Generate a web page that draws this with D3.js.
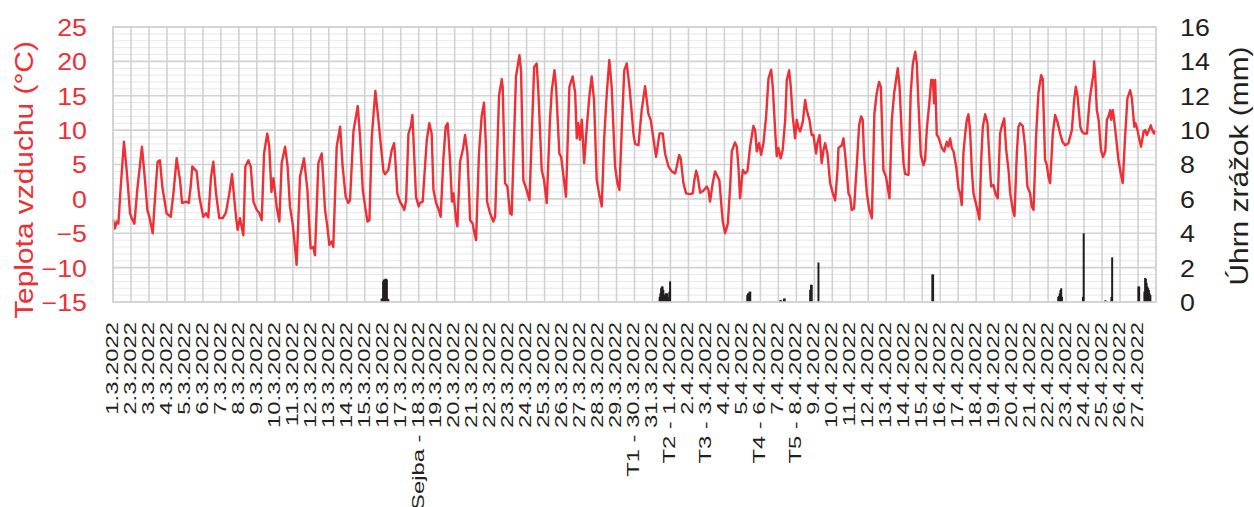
<!DOCTYPE html>
<html><head><meta charset="utf-8">
<script src="https://cdn.jsdelivr.net/npm/d3@7"></script>
<style>html,body{margin:0;padding:0;background:#fff;} svg{display:block;font-family:"Liberation Sans",Arial,sans-serif;}</style>
</head><body><svg id="chart" width="1254" height="507"></svg>
<script>
// ---------- DATA ----------
const dayLabels = [
 "1.3.2022","2.3.2022","3.3.2022","4.3.2022","5.3.2022","6.3.2022","7.3.2022","8.3.2022","9.3.2022","10.3.2022",
 "11.3.2022","12.3.2022","13.3.2022","14.3.2022","15.3.2022","16.3.2022","17.3.2022","18.3.2022","19.3.2022","20.3.2022",
 "21.3.2022","22.3.2022","23.3.2022","24.3.2022","25.3.2022","26.3.2022","27.3.2022","28.3.2022","29.3.2022","30.3.2022",
 "31.3.2022","1.4.2022","2.4.2022","3.4.2022","4.4.2022","5.4.2022","6.4.2022","7.4.2022","8.4.2022","9.4.2022",
 "10.4.2022","11.4.2022","12.4.2022","13.4.2022","14.4.2022","15.4.2022","16.4.2022","17.4.2022","18.4.2022","19.4.2022",
 "20.4.2022","21.4.2022","22.4.2022","23.4.2022","24.4.2022","25.4.2022","26.4.2022","27.4.2022"];
const eventNames = ["Sejba","T1","T2","T3","T4","T5"];
const eventDates = ["18.3.2022","30.3.2022","1.4.2022","3.4.2022","6.4.2022","8.4.2022"];
const tempTicks = [-15,-10,-5,0,5,10,15,20,25];
const precipTicks = [0,2,4,6,8,10,12,14,16];
const leftTitle = "Teplota vzduchu (°C)";
const rightTitle = "Úhrn zrážok (mm)";

// time in days since 1.3.2022 00:00
const tempDay = [
 0.00,0.11,0.20,0.30,0.43,0.61,0.76,0.95,1.04,1.19,1.35,1.61,1.78,1.91,2.02,2.21,2.34,2.48,2.61,2.74,
 2.98,3.21,3.36,3.54,3.73,3.84,4.06,4.21,4.32,4.41,4.65,4.80,5.02,5.17,5.30,5.45,5.58,5.73,5.91,6.10,
 6.28,6.47,6.62,6.75,6.84,6.93,7.06,7.25,7.36,7.53,7.66,7.81,7.99,8.14,8.27,8.40,8.58,8.69,8.81,8.92,
 9.10,9.25,9.38,9.57,9.71,9.84,9.99,10.12,10.21,10.40,10.62,10.81,10.92,10.99,11.14,11.23,11.42,11.61,11.79,11.92,
 12.03,12.16,12.25,12.44,12.63,12.77,12.94,13.09,13.18,13.37,13.61,13.74,13.89,14.02,14.15,14.26,14.39,14.59,14.76,14.85,
 15.04,15.13,15.31,15.50,15.63,15.68,15.81,15.96,16.11,16.20,16.30,16.43,16.56,16.65,16.76,16.85,17.00,17.07,17.22,17.45,
 17.59,17.72,17.82,17.97,18.09,18.22,18.37,18.50,18.61,18.74,18.85,18.93,19.08,19.15,19.30,19.45,19.58,19.71,19.86,20.00,
 20.10,20.19,20.35,20.50,20.63,20.74,20.80,20.97,21.15,21.25,21.47,21.62,21.67,21.80,21.93,22.08,22.17,22.41,22.60,22.69,
 22.82,23.00,23.16,23.42,23.56,23.65,23.84,23.97,24.12,24.30,24.40,24.55,24.64,24.82,24.92,25.08,25.19,25.38,25.56,25.70,
 25.79,25.88,25.97,26.07,26.20,26.35,26.49,26.62,26.75,26.90,27.03,27.18,27.31,27.46,27.60,27.73,27.92,28.05,28.16,28.29,
 28.43,28.57,28.72,28.85,28.94,29.03,29.22,29.40,29.59,29.77,29.90,30.05,30.20,30.39,30.57,
 30.70,30.89,31.07,31.26,31.35,31.48,31.57,31.72,31.87,32.09,32.24,32.33,32.43,32.52,32.65,32.84,33.02,33.11,33.20,33.35,
 33.48,33.57,33.72,33.82,33.91,34.04,34.19,34.32,34.41,34.59,34.69,34.78,34.87,35.02,35.15,35.28,35.43,35.61,35.71,35.80,
 35.93,36.04,36.17,36.32,36.45,36.60,36.69,36.82,36.91,37.00,37.13,37.24,37.38,37.47,37.60,37.69,37.80,37.93,38.02,38.12,
 38.21,38.36,38.49,38.58,38.73,38.85,38.95,39.04,39.10,39.17,39.29,39.41,39.51,39.60,39.73,39.88,40.03,40.16,40.29,40.34,
 40.53,40.62,40.71,40.81,40.90,40.99,41.08,41.21,41.40,41.49,41.60,41.69,41.77,41.92,42.06,42.20,42.34,42.47,42.60,42.70,
 42.84,42.99,43.07,43.18,43.31,43.44,43.64,43.74,43.87,43.96,44.05,44.24,44.36,44.48,44.61,44.70,44.79,44.92,45.07,45.16,
 45.26,45.41,45.50,45.59,45.66,45.72,45.81,45.90,46.09,46.22,46.37,46.46,46.55,46.64,46.74,46.89,47.02,47.11,47.20,47.29,
 47.39,47.48,47.57,47.66,47.76,47.85,47.98,48.07,48.18,48.28,48.37,48.50,48.63,48.74,48.83,48.96,49.09,49.20,49.33,49.42,
 49.56,49.67,49.80,49.89,50.04,50.13,50.26,50.35,50.44,50.59,50.72,50.85,51.00,51.09,51.19,51.33,51.46,51.61,51.70,51.83,
 51.93,52.02,52.11,52.26,52.39,52.52,52.67,52.80,52.95,53.13,53.32,53.45,53.54,53.64,53.79,53.88,54.01,54.16,54.31,54.43,
 54.53,54.56,54.62,54.71,54.81,54.94,55.05,55.18,55.27,55.36,55.45,55.51,55.60,55.67,55.78,55.91,56.04,56.15,56.28,56.41,
 56.56,56.66,56.79,56.86,56.97,57.08,57.17,57.31,57.40,57.49,57.58,57.71,57.82,57.90,57.96];
const tempC = [
 -3.0,-4.3,-3.3,-3.6,1.8,8.3,4.2,-2.1,-2.8,-3.6,1.3,7.6,2.7,-1.6,-2.6,-5.0,0.3,5.4,5.6,1.8,
 -2.1,-2.6,0.8,5.9,2.7,-0.6,-0.4,-0.6,1.8,4.7,4.0,0.3,-2.6,-2.1,-2.7,3.2,5.4,0.8,-2.8,-2.8,
 -2.0,0.8,3.6,-0.2,-2.6,-4.5,-2.8,-5.3,4.7,5.6,4.7,-0.4,-1.6,-2.1,-3.1,6.6,9.5,7.6,1.0,3.0,
 -1.1,-3.3,5.2,7.6,4.7,-1.1,-3.6,-7.0,-9.6,3.2,5.9,1.3,-4.0,-7.2,-7.0,-8.2,5.2,6.6,-1.6,-4.0,
 -6.7,-6.2,-7.0,7.6,10.5,4.7,0.3,-0.6,-0.2,9.8,13.5,9.0,1.3,-1.1,-3.3,-3.1,9.0,15.7,11.5,9.0,
 4.0,3.6,4.2,7.1,8.1,6.6,0.8,-0.4,-1.1,-1.6,-0.2,9.5,10.5,12.2,5.7,0.3,-1.1,-0.6,-0.4,8.6,
 11.0,9.5,1.3,-0.6,-1.4,-2.6,5.7,10.5,11.0,5.7,-0.4,0.8,-3.1,-4.0,5.4,7.1,9.3,6.6,-3.1,-3.6,
 -5.0,-6.0,6.6,12.0,14.0,7.6,-0.4,-2.1,-3.3,-2.6,15.1,17.4,16.3,2.3,1.8,-2.1,-2.3,17.8,20.9,18.7,
 2.7,1.3,-0.2,19.2,19.7,15.8,4.2,2.7,-0.6,11.5,15.8,18.7,16.3,6.6,6.1,2.7,0.3,16.3,17.8,15.4,
 8.8,11.0,8.6,11.5,5.2,10.5,14.9,17.8,14.4,2.7,0.8,-1.1,8.6,15.4,20.2,16.3,4.7,2.3,1.3,10.0,
 18.7,19.7,16.3,12.4,9.5,8.0,7.8,12.9,16.4,12.4,11.5,8.8,6.1,9.5,9.5,
 6.6,4.7,4.0,3.7,4.7,6.4,5.9,2.3,0.8,0.7,0.8,2.7,4.1,3.2,0.9,1.2,1.8,1.3,-0.4,2.3,
 4.0,3.5,2.7,-0.6,-3.3,-5.0,-3.6,1.8,6.9,8.2,7.6,4.7,0.1,4.2,3.7,4.0,7.6,10.6,10.0,6.9,
 8.1,6.4,8.1,12.0,17.5,18.8,16.3,10.0,6.2,7.4,5.9,7.1,11.5,17.3,18.7,16.3,12.0,8.8,11.5,10.3,
 9.8,11.2,14.4,12.9,11.5,9.3,9.3,7.6,6.6,8.1,9.3,5.2,7.1,8.1,6.6,2.3,0.8,-0.2,4.2,7.4,
 7.8,8.8,6.6,3.7,0.8,0.3,-1.6,-1.4,6.6,10.7,12.0,11.5,6.1,0.8,-1.6,-2.8,12.4,15.4,17.0,16.3,
 4.2,3.2,1.8,0.1,11.5,15.4,19.0,16.3,9.0,5.2,3.6,3.5,15.4,19.7,21.4,19.7,13.9,6.4,4.9,5.7,
 10.3,14.4,17.3,17.3,13.9,17.3,9.3,9.0,7.4,6.9,8.3,7.6,8.8,7.4,6.9,4.7,1.5,0.8,-0.9,6.6,
 9.5,11.5,12.3,10.0,4.2,0.8,-0.6,-1.6,-3.0,5.7,10.5,12.3,11.0,5.7,1.8,2.0,0.6,0.1,9.5,10.5,
 11.7,7.1,4.2,0.8,-1.6,-2.5,6.6,10.5,11.0,10.6,7.6,1.8,0.8,-1.1,-1.6,9.0,15.4,18.0,17.5,5.7,
 4.9,3.2,2.3,9.5,12.2,11.2,9.5,8.3,7.8,8.1,10.0,14.4,16.3,14.9,10.5,9.8,9.5,9.5,14.4,16.6,
 18.3,20.0,18.0,12.9,11.5,7.1,6.1,6.9,11.5,12.0,12.9,11.5,12.9,11.5,9.0,5.7,3.7,2.3,9.0,14.6,
 15.8,14.6,10.5,11.0,10.0,8.6,7.6,9.8,10.0,9.3,9.8,10.7,9.8,9.5,10.0];

// hour index since 1.3.2022 00:00 (hours with precipitation only)
const precipHour = [358,359,360,361,362,363,364,365,366,367,
 729,730,731,732,733,734,735,736,737,738,739,740,741,742,743,
 846,847,848,849,850, 890,891,895,896, 930,931,932, 941, 1093,1094,
 1261,1262,1263,1264,1265,1266, 1294,1295, 1324, 1332,1333,
 1368,1369,1376,1377,1378,1379,1380,1381,1382,1383,1384];
const precipMm = [0.2,0.2,1.2,1.3,1.3,1.35,1.35,1.3,0.2,0.15,
 0.3,0.5,0.8,0.9,0.9,0.7,0.4,0.4,0.5,0.5,0.5,0.3,0.1,0.6,1.2,
 0.4,0.5,0.5,0.6,0.6, 0.1,0.1,0.2,0.2, 0.7,1.0,1.0, 2.3, 1.6,1.6,
 0.3,0.35,0.5,0.7,0.8,0.3, 0.3,4.0, 0.1, 0.3,2.6,
 0.9,0.9,0.6,1.4,1.35,1.1,0.9,0.8,0.7,0.5,0.4];

// ---------- CHART ----------
const W = 1254, H = 507;
const M = {left:113, right:1156, top:27, bottom:302};
const RED = "#ee2f36", DARK = "#231f20", GRID = "#d2d2d2", MINOR = "#e8e8e8";
const svg = d3.select("#chart");

const x = d3.scaleLinear().domain([0, dayLabels.length]).range([M.left, M.right]);
const yT = d3.scaleLinear().domain([-15, 25]).range([M.bottom, M.top]);
const yP = d3.scaleLinear().domain([0, 16]).range([M.bottom, M.top]);

function stretch(sel, f){
  sel.each(function(){
    const n = this.getComputedTextLength();
    d3.select(this).attr("textLength", n*f).attr("lengthAdjust","spacingAndGlyphs");
  });
}

// minor grid
svg.append("g").selectAll("line").data(d3.range(-15, 26, 1).filter(v => v % 5 !== 0)).join("line")
  .attr("x1", M.left).attr("x2", M.right).attr("y1", d => yT(d)).attr("y2", d => yT(d))
  .attr("stroke", MINOR).attr("stroke-width", 1);
// vertical grid (per day)
svg.append("g").selectAll("line").data(d3.range(0, dayLabels.length + 1)).join("line")
  .attr("x1", d => x(d)).attr("x2", d => x(d)).attr("y1", M.top).attr("y2", M.bottom)
  .attr("stroke", GRID).attr("stroke-width", 1.6);
// major grid
svg.append("g").selectAll("line").data(tempTicks).join("line")
  .attr("x1", M.left).attr("x2", M.right).attr("y1", d => yT(d)).attr("y2", d => yT(d))
  .attr("stroke", GRID).attr("stroke-width", 1.6);

// precipitation bars
const pData = precipHour.map((h, i) => ({h, v: precipMm[i]}));
svg.append("g").selectAll("rect").data(pData).join("rect")
  .attr("x", d => x((d.h + 0.5) / 24) - 1)
  .attr("width", 2)
  .attr("y", d => yP(d.v))
  .attr("height", d => yP(0) - yP(d.v))
  .attr("fill", DARK);

// temperature line
const tData = tempDay.map((d, i) => ({d, v: tempC[i]}));
svg.append("path").datum(tData)
  .attr("fill", "none").attr("stroke", RED).attr("stroke-width", 2.4)
  .attr("stroke-linejoin", "round")
  .attr("d", d3.line().x(d => x(d.d)).y(d => yT(d.v)));

// left axis
const gL = svg.append("g").attr("transform", `translate(${M.left - 26},0)`)
  .call(d3.axisLeft(yT).tickValues(tempTicks).tickSize(0).tickPadding(0));
gL.select(".domain").remove();
gL.selectAll("text").attr("fill", RED).attr("font-size", 23.3)
  .attr("font-family", "Liberation Sans, Arial, sans-serif").attr("dy", "0.36em").attr("x", 0)
  .call(stretch, 1.15);

// right axis
const gR = svg.append("g").attr("transform", `translate(${M.right + 24},0)`)
  .call(d3.axisRight(yP).tickValues(precipTicks).tickSize(0).tickPadding(0));
gR.select(".domain").remove();
gR.selectAll("text").attr("fill", DARK).attr("font-size", 23.3)
  .attr("font-family", "Liberation Sans, Arial, sans-serif").attr("dy", "0.36em").attr("x", 0)
  .call(stretch, 1.15);

// bottom axis labels
const labelText = (i) => {
  const k = eventDates.indexOf(dayLabels[i]);
  return k >= 0 ? eventNames[k] + " - " + dayLabels[i] : dayLabels[i];
};
const gB = svg.append("g").attr("transform", `translate(0,${M.bottom})`)
  .call(d3.axisBottom(x).tickValues(d3.range(0, dayLabels.length)).tickFormat(i => labelText(i)).tickSize(0));
gB.select(".domain").remove();
gB.selectAll("text")
  .attr("fill", DARK).attr("font-size", 17).attr("font-family", "Liberation Sans, Arial, sans-serif")
  .attr("text-anchor", "end")
  .attr("transform", "translate(4.3,20) rotate(-90)")
  .attr("x", 0).attr("y", 0).attr("dy", 0)
  .call(stretch, 1.4);

// plot border
svg.append("rect").attr("x", M.left).attr("y", M.top).attr("width", M.right - M.left).attr("height", M.bottom - M.top)
  .attr("fill", "none").attr("stroke", GRID).attr("stroke-width", 1.6);

// titles
svg.append("text").attr("transform", `translate(33,180) rotate(-90)`).attr("text-anchor", "middle")
  .attr("fill", RED).attr("font-size", 26.7).text(leftTitle).call(stretch, 1.12);
svg.append("text").attr("transform", `translate(1248,166) rotate(-90)`).attr("text-anchor", "middle")
  .attr("fill", DARK).attr("font-size", 26.7).text(rightTitle).call(stretch, 1.12);
</script></body></html>
